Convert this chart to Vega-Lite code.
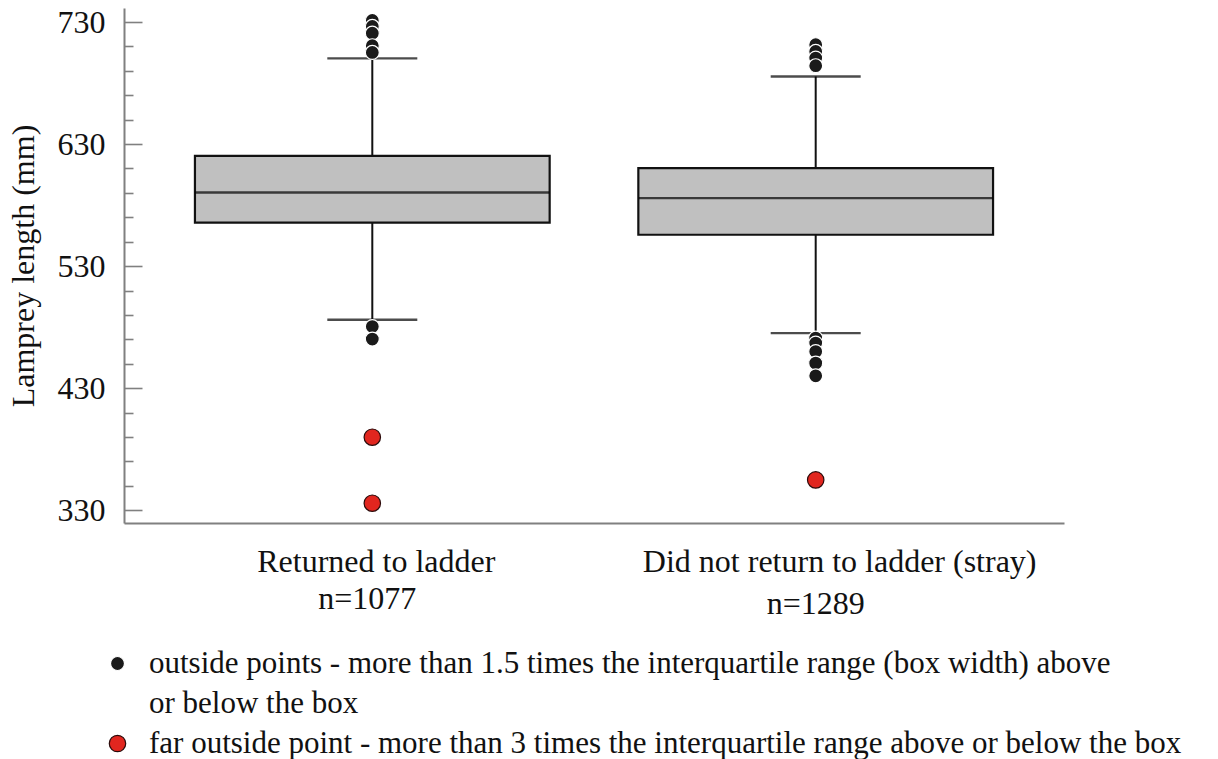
{
  "$schema": "https://vega.github.io/schema/vega-lite/v6.json",
  "width": 940,
  "height": 515,
  "autosize": {"type": "none"},
  "padding": {"left": 124, "top": 8, "right": 154, "bottom": 236},
  "background": "white",
  "config": {
    "view": {"stroke": null},
    "font": "Liberation Serif"
  },
  "datasets": {
    "boxes": [
      {"group": "Returned to ladder", "lower": 486, "q1": 565.7, "median": 590.3, "q3": 620.4, "upper": 700.2},
      {"group": "Did not return to ladder (stray)", "lower": 475.1, "q1": 555.7, "median": 585.7, "q3": 610.3, "upper": 685.4}
    ],
    "outliers": [
      {"group": "Returned to ladder", "value": 731.3, "type": "outside"},
      {"group": "Returned to ladder", "value": 726.4, "type": "outside"},
      {"group": "Returned to ladder", "value": 720.9, "type": "outside"},
      {"group": "Returned to ladder", "value": 710.6, "type": "outside"},
      {"group": "Returned to ladder", "value": 705.1, "type": "outside"},
      {"group": "Returned to ladder", "value": 480.5, "type": "outside"},
      {"group": "Returned to ladder", "value": 470.2, "type": "outside"},
      {"group": "Returned to ladder", "value": 389.8, "type": "far outside"},
      {"group": "Returned to ladder", "value": 335.7, "type": "far outside"},
      {"group": "Did not return to ladder (stray)", "value": 711.4, "type": "outside"},
      {"group": "Did not return to ladder (stray)", "value": 705.9, "type": "outside"},
      {"group": "Did not return to ladder (stray)", "value": 700.5, "type": "outside"},
      {"group": "Did not return to ladder (stray)", "value": 694.2, "type": "outside"},
      {"group": "Did not return to ladder (stray)", "value": 471.0, "type": "outside"},
      {"group": "Did not return to ladder (stray)", "value": 466.9, "type": "outside"},
      {"group": "Did not return to ladder (stray)", "value": 460.0, "type": "outside"},
      {"group": "Did not return to ladder (stray)", "value": 450.5, "type": "outside"},
      {"group": "Did not return to ladder (stray)", "value": 440.1, "type": "outside"},
      {"group": "Did not return to ladder (stray)", "value": 354.8, "type": "far outside"}
    ]
  },
  "resolve": {"axis": {"x": "independent"}},
  "encoding": {
    "x": {
      "field": "group",
      "type": "nominal",
      "sort": ["Returned to ladder", "Did not return to ladder (stray)"],
      "scale": {"domain": ["Returned to ladder", "Did not return to ladder (stray)"], "paddingInner": 0.2, "paddingOuter": 0.16},
      "axis": null
    }
  },
  "layer": [
    {
      "data": {"name": "boxes"},
      "mark": {"type": "rule", "color": "#111111", "strokeWidth": 2},
      "encoding": {
        "x": {
          "field": "group",
          "type": "nominal",
          "sort": ["Returned to ladder", "Did not return to ladder (stray)"],
          "scale": {"domain": ["Returned to ladder", "Did not return to ladder (stray)"], "paddingInner": 0.2, "paddingOuter": 0.16},
          "axis": {
            "orient": "bottom",
            "title": null,
            "ticks": false,
            "domainColor": "#808080",
            "domainWidth": 2,
            "labelAngle": 0,
            "labelFont": "Liberation Serif",
            "labelFontSize": 32,
            "labelColor": "#111111",
            "labelBaseline": "top",
            "labelPadding": 23,
            "labelLimit": 1000,
            "labelOffset": {"condition": {"test": "datum.value == 'Returned to ladder'", "value": 4}, "value": 24}
          }
        },
        "y": {
          "field": "lower",
          "type": "quantitative",
          "scale": {"domain": [319.5, 741.5], "nice": false, "zero": false},
          "axis": {
            "title": "Lamprey length (mm)",
            "titleFont": "Liberation Serif",
            "titleFontSize": 32,
            "titleFontWeight": "normal",
            "titleColor": "#111111",
            "titlePadding": 17,
            "values": [330, 350, 370, 390, 410, 430, 450, 470, 490, 510, 530, 550, 570, 590, 610, 630, 650, 670, 690, 710, 730],
            "tickCount": 50,
            "labelExpr": "datum.value % 100 == 30 ? datum.label : ''",
            "labelFont": "Liberation Serif",
            "labelFontSize": 32,
            "labelColor": "#111111",
            "labelPadding": 37,
            "labelFlush": false,
            "labelOverlap": false,
            "grid": false,
            "domainColor": "#808080",
            "domainWidth": 2,
            "tickColor": "#808080",
            "tickWidth": 1.6,
            "tickSize": {"condition": {"test": "datum.value % 100 == 30", "value": -18}, "value": -9}
          }
        },
        "y2": {"field": "upper"}
      }
    },
    {
      "data": {"name": "boxes"},
      "mark": {"type": "tick", "color": "#000000", "thickness": 2.4, "size": 90},
      "encoding": {"y": {"field": "upper", "type": "quantitative"}}
    },
    {
      "data": {"name": "boxes"},
      "mark": {"type": "tick", "color": "#000000", "thickness": 2.4, "size": 90},
      "encoding": {"y": {"field": "lower", "type": "quantitative"}}
    },
    {
      "data": {"name": "boxes"},
      "mark": {"type": "bar", "fill": "#c0c0c0", "stroke": "#111111", "strokeWidth": 2.2},
      "encoding": {
        "y": {"field": "q1", "type": "quantitative"},
        "y2": {"field": "q3"}
      }
    },
    {
      "data": {"name": "boxes"},
      "mark": {"type": "tick", "color": "#000000", "thickness": 2.4, "size": 354},
      "encoding": {
        "x": {
          "field": "group",
          "type": "nominal",
          "sort": ["Returned to ladder", "Did not return to ladder (stray)"],
          "scale": {"domain": ["Returned to ladder", "Did not return to ladder (stray)"], "paddingInner": 0.2, "paddingOuter": 0.16},
          "axis": {
            "orient": "bottom",
            "title": null,
            "ticks": false,
            "domain": false,
            "labelAngle": 0,
            "labelFont": "Liberation Serif",
            "labelFontSize": 32,
            "labelColor": "#111111",
            "labelBaseline": "top",
            "labelLimit": 1000,
            "labelPadding": {"condition": {"test": "datum.value == 'Returned to ladder'", "value": 60}, "value": 65},
            "labelOffset": {"condition": {"test": "datum.value == 'Returned to ladder'", "value": -5}, "value": 0},
            "labelExpr": "datum.value == 'Returned to ladder' ? 'n=1077' : 'n=1289'"
          }
        },
        "y": {"field": "median", "type": "quantitative"}
      }
    },
    {
      "data": {"name": "outliers"},
      "mark": {"type": "point", "filled": true, "opacity": 1, "strokeWidth": 1.2},
      "encoding": {
        "y": {"field": "value", "type": "quantitative"},
        "color": {
          "field": "type",
          "type": "nominal",
          "scale": {"domain": ["outside", "continued", "far outside"], "range": ["#1a1a1a", "transparent", "#e1261f"]},
          "legend": {
            "title": null,
            "orient": "none",
            "legendX": -22,
            "legendY": 640,
            "direction": "vertical",
            "labelFont": "Liberation Serif",
            "labelFontSize": 31,
            "labelColor": "#111111",
            "labelLimit": 1200,
            "labelOffset": 16,
            "labelBaseline": "middle",
            "rowPadding": 8,
            "symbolStrokeWidth": 1.2,
            "labelExpr": "datum.label == 'outside' ? 'outside points - more than 1.5 times the interquartile range (box width) above' : datum.label == 'continued' ? 'or below the box' : 'far outside point - more than 3 times the interquartile range above or below the box'"
          }
        },
        "size": {
          "field": "type",
          "type": "nominal",
          "scale": {"type": "ordinal", "domain": ["outside", "continued", "far outside"], "range": [195, 10, 270]}
        },
        "stroke": {
          "field": "type",
          "type": "nominal",
          "scale": {"domain": ["outside", "continued", "far outside"], "range": ["#ffffff", "transparent", "#2a0a0a"]}
        }
      }
    }
  ]
}
